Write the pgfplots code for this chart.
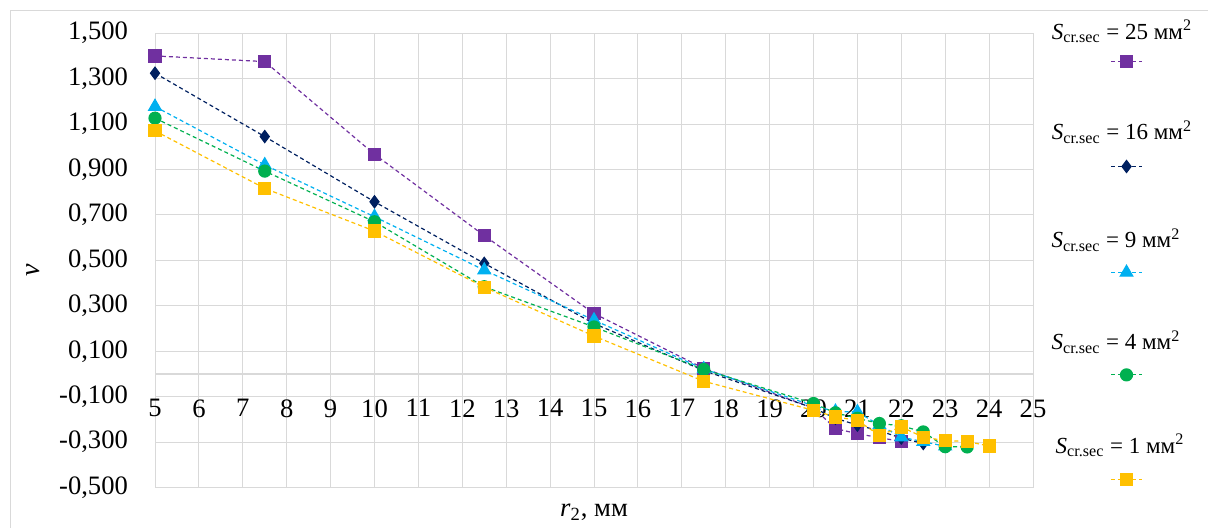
\documentclass[border=0pt]{standalone}
\usepackage{fontspec}
\setmainfont{Liberation Serif}
\usepackage{pgfplots}
\usepackage{pgfplotstable}
\pgfplotsset{compat=1.18}
\definecolor{cP}{HTML}{7030A0}
\definecolor{cN}{HTML}{002060}
\definecolor{cC}{HTML}{00B0F0}
\definecolor{cG}{HTML}{00B050}
\definecolor{cY}{HTML}{FFC000}
\definecolor{gridgrey}{HTML}{D9D9D9}

\pgfplotstableread{
x y
5 1.400
7.5 1.375
10 0.967
12.5 0.609
15 0.266
17.5 0.025
20 -0.150
20.5 -0.240
21 -0.263
21.5 -0.280
22 -0.297
}\dP
\pgfplotstableread{
x y
5 1.324
7.5 1.045
10 0.758
12.5 0.487
15 0.222
17.5 0.015
20 -0.150
20.5 -0.195
21 -0.225
21.5 -0.250
22 -0.282
22.5 -0.306
}\dN
\pgfplotstableread{
x y
5 1.177
7.5 0.920
10 0.692
12.5 0.457
15 0.237
17.5 0.022
20 -0.140
20.5 -0.165
21 -0.167
21.5 -0.225
22 -0.278
22.5 -0.298
23 -0.318
}\dC
\pgfplotstableread{
x y
5 1.126
7.5 0.893
10 0.670
12.5 0.384
15 0.207
17.5 0.020
20 -0.130
20.5 -0.171
21 -0.195
21.5 -0.218
22 -0.228
22.5 -0.255
23 -0.320
23.5 -0.321
}\dG
\pgfplotstableread{
x y
5 1.070
7.5 0.817
10 0.629
12.5 0.382
15 0.167
17.5 -0.032
20 -0.160
20.5 -0.189
21 -0.204
21.5 -0.270
22 -0.233
22.5 -0.278
23 -0.293
23.5 -0.297
24 -0.317
}\dY

\begin{document}
\begin{tikzpicture}
\draw[gridgrey, line width=0.5pt] (5.35pt,-20pt) -- (5.35pt,258.5pt) -- (640pt,258.5pt);
\begin{axis}[
  at={(77.5pt,20.2pt)}, anchor=south west,
  scale only axis, width=439pt, height=227.2pt,
  xmin=5, xmax=25, ymin=-0.5, ymax=1.5,
  clip=false,
  axis x line=middle, axis y line=left,
  hide obscured x ticks=false,
  hide obscured y ticks=false,
  axis line style={-},
  x axis line style={draw=gridgrey, line width=0.6pt},
  y axis line style={draw=none},
  xtick={5,6,...,25},
  ytick={-0.5,-0.3,-0.1,0.1,0.3,0.5,0.7,0.9,1.1,1.3,1.5},
  major tick length=0pt,
  grid=major,
  major grid style={draw=gridgrey, line width=0.5pt},
  /pgf/number format/assume math mode=true,
  tick label style={font=\fontsize{13.3}{15}\selectfont},
  yticklabel style={/pgf/number format/.cd, fixed, fixed zerofill, precision=3, use comma, 1000 sep={}, /tikz/.cd, anchor=east, inner sep=0pt, xshift=-13.35pt},
  xticklabel style={anchor=north, inner sep=0pt, yshift=-12.5pt},
  legend style={at={(axis description cs:1.0877,0.9514)}, anchor=north west, draw=none, fill=none, inner sep=0pt, row sep=46.4pt, nodes={inner sep=0pt}},
  legend image code/.code={\draw[mark repeat=2,mark phase=2,#1] plot coordinates {(0pt,0pt)(7.75pt,0pt)(15.5pt,0pt)};},
  every axis plot/.append style={line width=0.6pt, dash pattern=on 2pt off 1.5pt},
]
\addplot[cP, mark=square*, mark size=3pt, mark options={solid}] table {\dP};
\addlegendentry{}
\addplot[cN, mark=diamond*, mark size=3pt, mark options={solid}] table {\dN};
\addlegendentry{}
\addplot[cC, mark=triangle*, mark size=3.6pt, mark options={solid}] table {\dC};
\addlegendentry{}
\addplot[cG, mark=*, mark size=3pt, mark options={solid}] table {\dG};
\addlegendentry{}
\addplot[cY, mark=square*, mark size=3pt, mark options={solid}] table {\dY};
\addlegendentry{}
\end{axis}
\begin{scope}[every node/.style={anchor=base, font=\fontsize{11.5}{13}\selectfont}]
\node at (561pt,244.35pt) {\textit{S}\textsubscript{cr.sec} = 25 мм\textsuperscript{2}};
\node at (561pt,194pt) {\textit{S}\textsubscript{cr.sec} = 16 мм\textsuperscript{2}};
\node at (558pt,140pt) {\textit{S}\textsubscript{cr.sec} = 9 мм\textsuperscript{2}};
\node at (558pt,89pt) {\textit{S}\textsubscript{cr.sec} = 4 мм\textsuperscript{2}};
\node at (560pt,37.35pt) {\textit{S}\textsubscript{cr.sec} = 1 мм\textsuperscript{2}};
\end{scope}
\node[anchor=base, font=\fontsize{13.3}{15}\selectfont] at (297pt,5.7pt) {\textit{r}\textsubscript{2}, мм};
\node[rotate=90, font=\fontsize{14}{16}\selectfont] at (16.5pt,129pt) {\textit{ν}};
\pgfresetboundingbox
\path (0,0) rectangle (604pt,264pt);
\end{tikzpicture}
\end{document}
